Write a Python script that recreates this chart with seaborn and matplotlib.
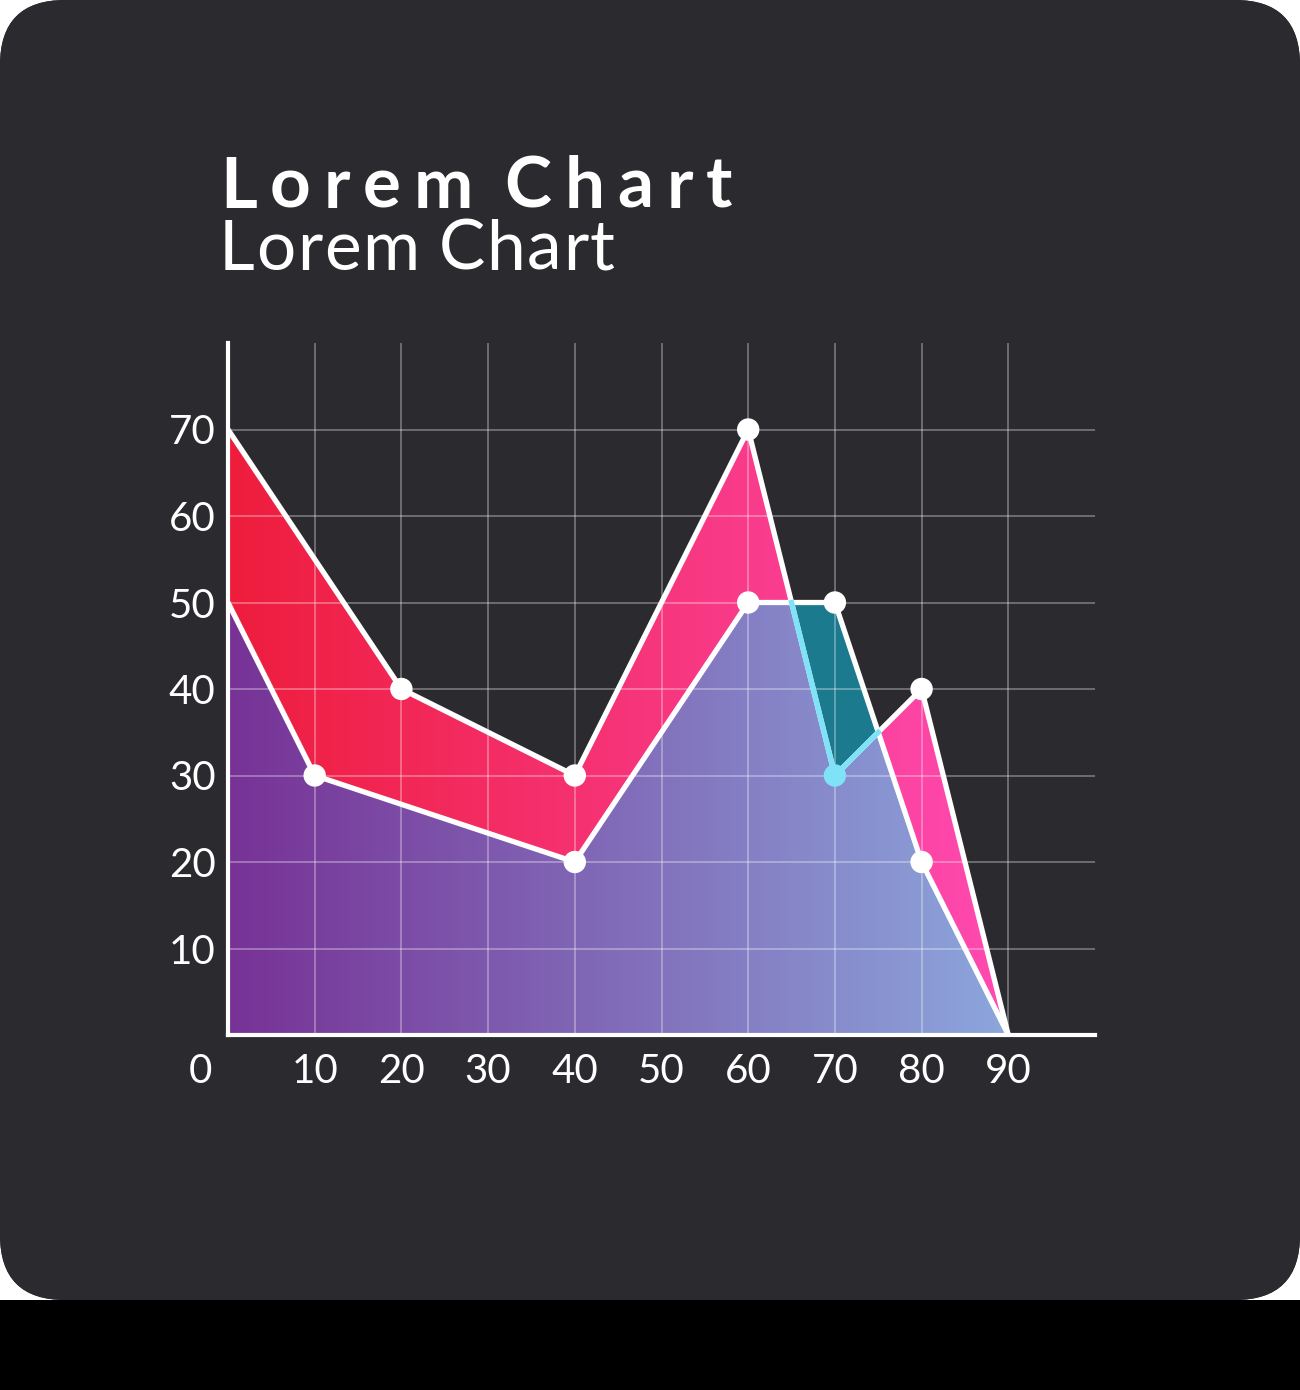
import numpy as np
import matplotlib
matplotlib.use("Agg")
import matplotlib.pyplot as plt
import seaborn as sns
from matplotlib.colors import LinearSegmentedColormap
from matplotlib.patches import FancyBboxPatch, Polygon, Rectangle
from matplotlib.transforms import ScaledTranslation

# datos
x_sup = [0, 20, 40, 60, 70, 80, 90]
y_sup = [70, 40, 30, 70, 30, 40, 0]
x_inf = [0, 10, 40, 60, 70, 80, 90]
y_inf = [50, 30, 20, 50, 50, 20, 0]
puntos_sup = [20, 40, 60, 80]          # marcadores blancos serie superior
punto_cian = [70]                       # marcador cian serie superior
puntos_inf = [10, 40, 60, 70, 80]
xticks = [0, 10, 20, 30, 40, 50, 60, 70, 80, 90]
yticks = [10, 20, 30, 40, 50, 60, 70]
titulo = "Lorem Chart"
subtitulo = "Lorem Chart"

W, H = 1300, 1390
fig = plt.figure(figsize=(W / 100, H / 100), dpi=100)
fig.patch.set_facecolor("white")
plt.rcParams['font.family'] = ['Lato', 'DejaVu Sans']

# fondo: tarjeta redondeada + franja negra
bg = fig.add_axes([0, 0, 1, 1], zorder=-5)
bg.set_xlim(0, W)
bg.set_ylim(H, 0)
bg.axis("off")
tarjeta = FancyBboxPatch((0, 0), W, 1300, boxstyle="round,pad=0,rounding_size=65",
                         facecolor="#2b2a2e", edgecolor="none")
bg.add_patch(tarjeta)
gx, gy = np.meshgrid(np.linspace(0, 1, 200), np.linspace(0, 1, 200))
cmap_bg = LinearSegmentedColormap.from_list("bg", ["#353439", "#1f1e22"])
im_bg = bg.imshow((gx + gy) / 2, cmap=cmap_bg, extent=[0, W, 1300, 0], aspect="auto")
im_bg.set_clip_path(tarjeta)
bg.add_patch(Rectangle((0, 1300), W, 90, facecolor="black", edgecolor="none"))
bg.set_xlim(0, W)
bg.set_ylim(H, 0)


def texto_espaciado(x_px, y_px, s, espacio, **kw):
    renderer = fig.canvas.get_renderer()
    for ch in s:
        if ch == " ":
            x_px += kw.get("fontsize", 40) * 0.36
            continue
        t = fig.text(x_px / W, 1 - y_px / H, ch, ha="left", va="baseline", color="white", **kw)
        x_px += t.get_window_extent(renderer).width + espacio


texto_espaciado(220, 208, titulo, 13, fontsize=51, fontweight="bold")
texto_espaciado(219, 270, subtitulo, 1.5, fontsize=50, fontweight="normal")

# grafico principal
ax = fig.add_axes([228 / W, 355 / H, 867 / W, 692 / H])
ax.set_facecolor("none")


def relleno_gradiente(xs, ys, c1, c2, z):
    verts = [(xs[0], 0)] + list(zip(xs, ys)) + [(xs[-1], 0)]
    poly = Polygon(verts, closed=True, facecolor="none", edgecolor="none")
    ax.add_patch(poly)
    cmap = LinearSegmentedColormap.from_list("g", [c1, c2])
    grad = np.linspace(0, 1, 256).reshape(1, -1)
    im = ax.imshow(grad, cmap=cmap, extent=[xs[0], xs[-1], 0, 80], aspect="auto",
                   origin="lower", zorder=z)
    im.set_clip_path(poly)


relleno_gradiente(x_sup, y_sup, "#ee1d3c", "#ff4ab2", 0.5)
relleno_gradiente(x_inf, y_inf, "#773296", "#8ca6dc", 0.6)

# zona donde la serie inferior supera a la superior
xs = np.array(sorted(set(x_sup) | set(x_inf)), dtype=float)
u = np.interp(xs, x_sup, y_sup)
l = np.interp(xs, x_inf, y_inf)
ax.fill_between(xs, u, l, where=l > u, interpolate=True, color="#1b7a8e", lw=0, zorder=1)

d = l - u
tramo_cian = []
for i in range(len(xs) - 1):
    if d[i] > 0:
        tramo_cian.append((xs[i], u[i]))
    if d[i] * d[i + 1] < 0:
        t = d[i] / (d[i] - d[i + 1])
        tramo_cian.append((xs[i] + t * (xs[i + 1] - xs[i]), u[i] + t * (u[i + 1] - u[i])))
cx, cy = zip(*tramo_cian)

sns.lineplot(x=x_sup, y=y_sup, ax=ax, color="white", lw=3.8, zorder=5)
sns.lineplot(x=x_inf, y=y_inf, ax=ax, color="white", lw=3.8, zorder=5)
sns.lineplot(x=list(cx), y=list(cy), ax=ax, color="#7fe2f6", lw=3.8, zorder=6)

sup = dict(zip(x_sup, y_sup))
inf = dict(zip(x_inf, y_inf))
sns.scatterplot(x=puntos_sup, y=[sup[k] for k in puntos_sup], ax=ax, s=260,
                color="white", edgecolor="none", zorder=7)
sns.scatterplot(x=puntos_inf, y=[inf[k] for k in puntos_inf], ax=ax, s=260,
                color="white", edgecolor="none", zorder=7)
sns.scatterplot(x=punto_cian, y=[sup[k] for k in punto_cian], ax=ax, s=260,
                color="#7fe2f6", edgecolor="none", zorder=8)

ax.set_xlim(0, 100)
ax.set_ylim(0, 80)
ax.set_xticks(xticks)
ax.set_yticks(yticks)
ax.set_xticklabels([str(v) for v in xticks])
ax.set_yticklabels([str(v) for v in yticks])
ax.tick_params(length=0, labelsize=29, labelcolor="white")
ax.tick_params(axis="y", pad=9)
ax.tick_params(axis="x", pad=13)
lab0 = ax.get_xticklabels()[0]
lab0.set_transform(lab0.get_transform() + ScaledTranslation(-0.28, 0, fig.dpi_scale_trans))
ax.set_axisbelow(False)
ax.grid(True, color="white", alpha=0.4, lw=1.1)
for lado in ["top", "right"]:
    ax.spines[lado].set_visible(False)
for lado in ["left", "bottom"]:
    ax.spines[lado].set_color("white")
    ax.spines[lado].set_linewidth(3)
    ax.spines[lado].set_zorder(6)
ax.set_xlabel("")
ax.set_ylabel("")

fig.savefig("out.png", dpi=100)
